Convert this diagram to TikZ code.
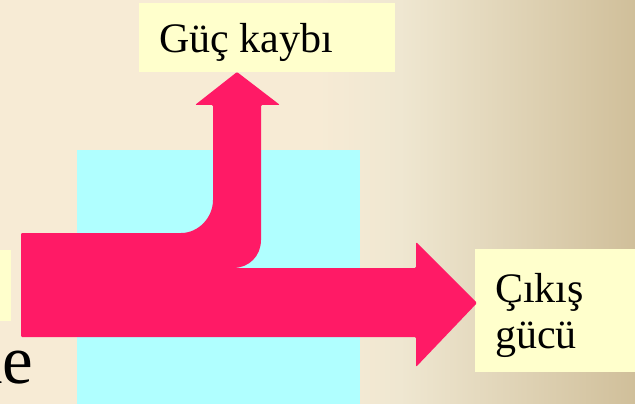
\documentclass[tikz,border=0pt]{standalone}
\usepackage{fontspec}
\setmainfont{Liberation Serif}
\definecolor{bgA}{HTML}{F7EBD5}
\definecolor{bgB}{HTML}{EFE7D1}
\definecolor{bgC}{HTML}{D0BF9A}
\definecolor{pinkarrow}{HTML}{FF1A66}
\definecolor{cyanbox}{HTML}{B0FFFF}
\definecolor{yellowbox}{HTML}{FFFFCC}
% the path is mapped onto the middle part (25bp..75bp) of the shading
\pgfdeclarehorizontalshading{bgshade}{100bp}{color(0bp)=(bgA); color(25bp)=(bgA); color(50bp)=(bgA); color(56.5bp)=(bgB); color(75bp)=(bgC); color(100bp)=(bgC)}
\begin{document}
\begin{tikzpicture}[x=1pt,y=-1pt,
  ybox/.style={fill=yellowbox, draw=none, inner sep=0pt, anchor=north west},
  lbl/.style={inner sep=0pt, font=\fontsize{42}{46}\selectfont, align=left},
  flow/.style={fill=pinkarrow, draw=none, rounded corners=1.2pt}]
\useasboundingbox (0,0) rectangle (635,404);
\clip (0,0) rectangle (635,404);
\shade[shading=bgshade] (0,0) rectangle (635,404);
% cyan block
\fill[cyanbox] (77,150) rectangle (360,410);
% small box at left edge
\node[ybox, minimum width=11pt, minimum height=71pt] (leftbox) at (0,250) {};
% partial text at bottom-left (cut by the picture's edge, as in the reference)
\node[inner sep=0pt, anchor=base east, font=\fontsize{69}{72}\selectfont] (ke) at (33,383) {ke};
% loss box
\node[ybox, minimum width=256pt, minimum height=69pt] (lossbox) at (139,3) {};
\node[lbl, anchor=base west] (losstext) at (159,53) {Güç kaybı};
% output box
\node[ybox, minimum width=165pt, minimum height=123pt] (outbox) at (475,249) {};
\node[lbl, anchor=north west] (outtext) at (495,273) {Çıkış\\gücü};
% split arrow
\coordinate (inL) at (21,233);
\coordinate (tipUp) at (237,72);
\coordinate (tipRight) at (477,303);
\fill[flow] (inL) -- (180,233) [sharp corners] .. controls (198,233) and (213,218) .. (213,200) [rounded corners=1.2pt]
  -- (213,105) -- (195,105) -- (tipUp) -- (280,105) -- (261,105) [sharp corners] -- (261,240)
  .. controls (261,256) and (249,268) .. (233,268) [rounded corners=1.2pt]
  -- (416,268) -- (416,242) -- (tipRight) -- (416,367) -- (416,337) -- (21,337) -- cycle;
\end{tikzpicture}
\end{document}
